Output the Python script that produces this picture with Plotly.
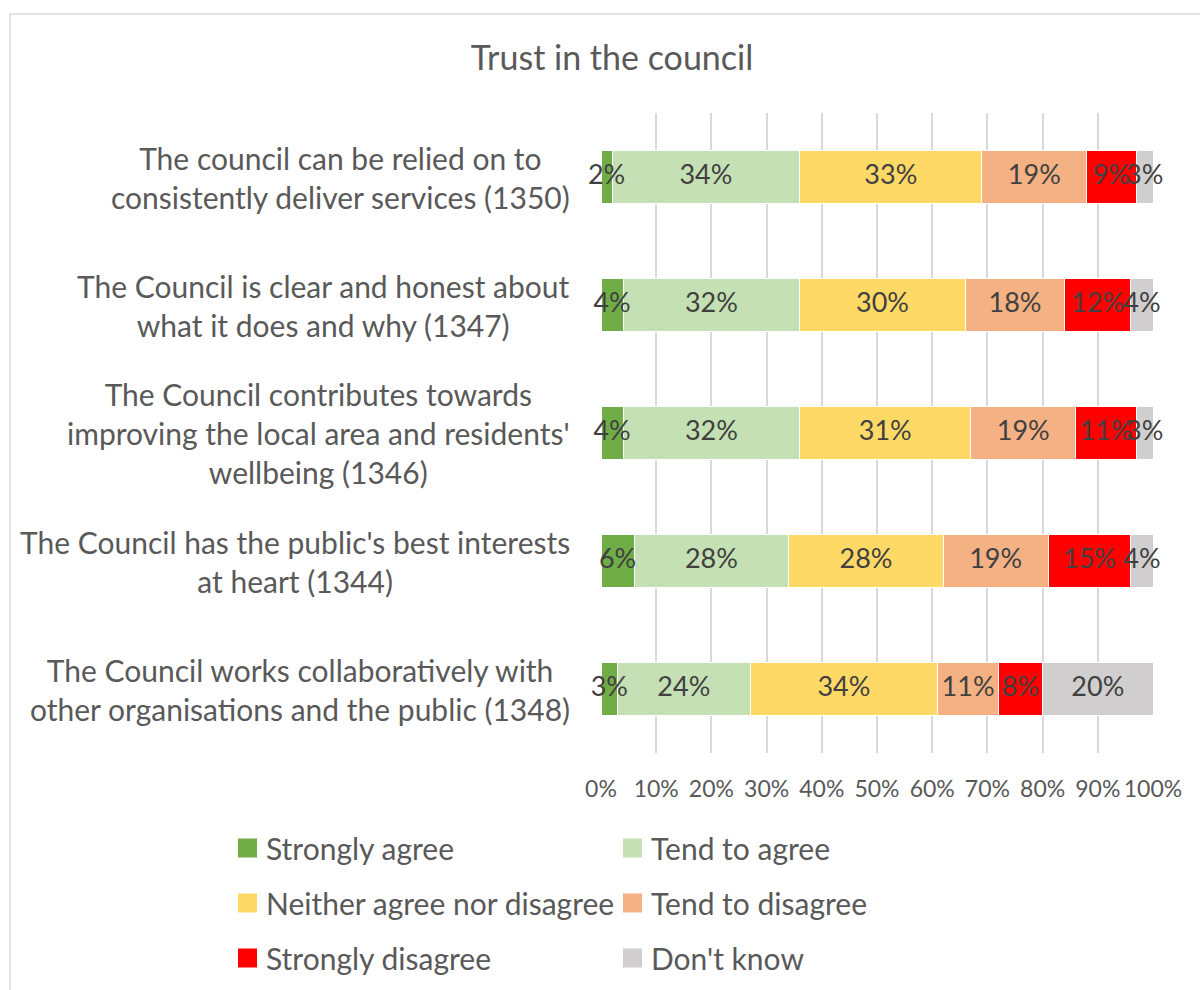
import plotly.graph_objects as go

# ---- data -------------------------------------------------------------
categories = [
    "The council can be relied on to<br>consistently deliver services (1350)",
    "The Council is clear and honest about<br>what it does and why (1347)",
    "The Council contributes towards<br>improving the local area and residents'<br>wellbeing (1346)",
    "The Council has the public's best interests<br>at heart (1344)",
    "The Council works collaboratively with<br>other organisations and the public (1348)",
]

series_names = [
    "Strongly agree",
    "Tend to agree",
    "Neither agree nor disagree",
    "Tend to disagree",
    "Strongly disagree",
    "Don't know",
]

strongly_agree = [2, 4, 4, 6, 3]
tend_to_agree = [34, 32, 32, 28, 24]
neither_agree_nor_disagree = [33, 30, 31, 28, 34]
tend_to_disagree = [19, 18, 19, 19, 11]
strongly_disagree = [9, 12, 11, 15, 8]
dont_know = [3, 4, 3, 4, 20]

tick_values = [0, 10, 20, 30, 40, 50, 60, 70, 80, 90, 100]
tick_labels = ["0%", "10%", "20%", "30%", "40%", "50%", "60%", "70%", "80%", "90%", "100%"]

title_text = "Trust in the council"

# ---- styling ----------------------------------------------------------
series_values = [
    strongly_agree,
    tend_to_agree,
    neither_agree_nor_disagree,
    tend_to_disagree,
    strongly_disagree,
    dont_know,
]
series_colors = ["#70AD47", "#C5E0B4", "#FFD966", "#F4B183", "#FF0000", "#D0CECE"]

FONT = "Lato"
TEXT_GREY = "#595959"
LABEL_GREY = "#404040"
GRID_GREY = "#D9D9D9"

W, H = 1200, 990
M_L, M_R, M_T, M_B = 601, 47, 113, 237
PLOT_W = W - M_L - M_R
PLOT_H = H - M_T - M_B


def px_x(px):
    """Pixel column -> paper x."""
    return (px - M_L) / PLOT_W


def px_y(py):
    """Pixel row (from top) -> paper y."""
    return 1 - (py - M_T) / PLOT_H


fig = go.Figure()

# stacked bars
for name, vals, col in zip(series_names, series_values, series_colors):
    fig.add_trace(
        go.Bar(
            y=categories,
            x=vals,
            name=name,
            orientation="h",
            marker=dict(color=col, line=dict(color="white", width=1)),
            showlegend=False,
            hoverinfo="skip",
        )
    )

# value labels, drawn above every bar so overflowing labels stay visible
lab_x, lab_y, lab_t = [], [], []
for i, cat in enumerate(categories):
    start = 0
    for vals in series_values:
        v = vals[i]
        lab_x.append(start + v / 2)
        lab_y.append(cat)
        lab_t.append(f"{v}%")
        start += v
fig.add_trace(
    go.Scatter(
        x=lab_x,
        y=lab_y,
        text=lab_t,
        mode="text",
        textposition="middle center",
        textfont=dict(family=FONT, size=27, color=LABEL_GREY),
        showlegend=False,
        hoverinfo="skip",
        cliponaxis=False,
    )
)

# category labels, centred line by line, right edge just left of the axis
for cat in categories:
    fig.add_annotation(
        x=px_x(572),
        xref="paper",
        y=cat,
        yref="y",
        text=cat,
        showarrow=False,
        xanchor="right",
        yanchor="middle",
        align="center",
        font=dict(family=FONT, size=30, color=TEXT_GREY),
    )

# legend: two columns, three rows
legend_cols = [238, 623]
legend_rows = [848, 903, 958]
SQ = 19
for k, (name, col) in enumerate(zip(series_names, series_colors)):
    cx = legend_cols[k % 2]
    cy = legend_rows[k // 2]
    fig.add_shape(
        type="rect",
        xref="paper",
        yref="paper",
        x0=px_x(cx),
        x1=px_x(cx + SQ),
        y0=px_y(cy + SQ / 2),
        y1=px_y(cy - SQ / 2),
        fillcolor=col,
        line=dict(width=0),
    )
    fig.add_annotation(
        x=px_x(cx + SQ + 7),
        xref="paper",
        y=px_y(cy),
        yref="paper",
        text=name,
        showarrow=False,
        xanchor="left",
        yanchor="middle",
        font=dict(family=FONT, size=30, color=TEXT_GREY),
    )

# outer chart frame
fig.add_shape(
    type="rect",
    xref="paper",
    yref="paper",
    x0=px_x(10),
    x1=px_x(1300),
    y0=px_y(1100),
    y1=px_y(14),
    line=dict(color=GRID_GREY, width=1.5),
    fillcolor="rgba(0,0,0,0)",
    layer="below",
)

fig.update_layout(
    width=W,
    height=H,
    margin=dict(l=M_L, r=M_R, t=M_T, b=M_B, pad=0),
    paper_bgcolor="white",
    plot_bgcolor="white",
    barmode="stack",
    bargap=0.586,
    showlegend=False,
    title=dict(
        text=title_text,
        x=612 / W,
        xref="container",
        xanchor="center",
        y=1 - 58 / H,
        yref="container",
        yanchor="middle",
        font=dict(family=FONT, size=34, color=TEXT_GREY),
    ),
    xaxis=dict(
        range=[0, 100],
        tickmode="array",
        tickvals=tick_values,
        ticktext=tick_labels,
        showgrid=True,
        gridcolor=GRID_GREY,
        gridwidth=1.5,
        zeroline=False,
        showline=False,
        ticks="",
        tickfont=dict(family=FONT, size=23, color=TEXT_GREY),
        ticklabelstandoff=20,
        fixedrange=True,
    ),
    yaxis=dict(
        autorange="reversed",
        showticklabels=False,
        showgrid=False,
        zeroline=False,
        showline=False,
        ticks="",
        fixedrange=True,
    ),
)

fig.write_html("out.html")
